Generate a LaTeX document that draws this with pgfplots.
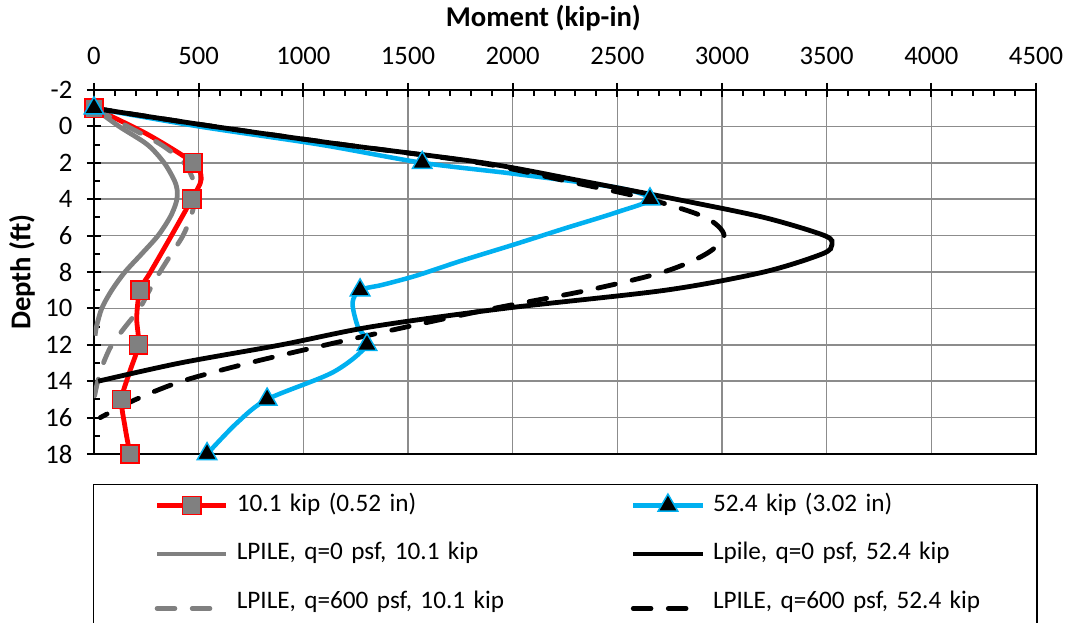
\documentclass[border=0pt]{standalone}
\usepackage{fontspec}
\setmainfont{Carlito}
\usepackage{pgfplots}
\pgfplotsset{compat=1.18}

\definecolor{cblue}{RGB}{0,176,240}
\definecolor{cred}{RGB}{255,0,0}
\definecolor{cgray}{RGB}{128,128,128}
\definecolor{cgrid}{RGB}{140,140,140}

\pgfplotsset{
  limg/.style={legend image code/.code={
      \path (0pt,0pt) (70.75pt,0pt);
      \draw[mark repeat=2,mark phase=2,##1] plot coordinates {(18.75pt,0pt) (44.75pt,0pt) (70.75pt,0pt)};
  }},
  dashstyle/.style={dash pattern=on 13.3pt off 13pt},
}

\begin{document}
\begin{tikzpicture}[font=\fontsize{20}{23}\selectfont]
\begin{axis}[
  name=ax,
  scale only axis,
  width=706.5pt, height=273pt,
  xmin=0, xmax=4500, ymin=-2, ymax=18,
  y dir=reverse,
  xtick={0,500,...,4500},
  ytick={-2,0,...,18},
  minor x tick num=4,
  minor y tick num=1,
  xticklabel pos=upper,
  xtick pos=upper,
  ytick pos=left,
  tick align=center,
  major tick length=10.5pt,
  minor tick length=4.5pt,
  major tick style={black, line width=1.5pt},
  minor x tick style={black, line width=1.5pt, yshift=-2.25pt},
  minor y tick style={black, line width=1.5pt, xshift=2.25pt},
  xticklabel style={yshift=10.5pt},
  yticklabel style={xshift=-7.5pt},
  grid=major,
  major grid style={cgrid, line width=1.1pt},
  axis line style={black, line width=2pt},
  /pgf/number format/1000 sep={},
  /pgf/number format/assume math mode=true,
  xlabel={\textbf{Moment (kip-in)}},
  ylabel={\textbf{Depth (ft)}},
  xlabel style={font=\fontsize{21.5}{24}\selectfont, at={(axis description cs:0.477,1)}, anchor=center, yshift=54pt},
  ylabel style={font=\fontsize{21.5}{24}\selectfont, at={(axis description cs:0,0.5)}, anchor=center, rotate=0, yshift=54pt},
  legend columns=2,
  legend cell align=left,
  legend style={
    at={(0,0)}, anchor=north west, xshift=-0.75pt, yshift=-22.5pt,
    draw=black, line width=1.1pt, fill=white,
    inner xsep=27pt, inner ysep=6pt,
    row sep=17.4pt,
    font=\fontsize{18.9}{22}\selectfont,
    nodes={inner sep=0pt, text height=14pt, text depth=5pt},
    /tikz/every odd column/.append style={column sep=6pt},
  },
]

% --- lines ---
\addplot[forget plot, cred, line width=3.6pt, smooth, tension=0.5] coordinates {
(0,-1) (250,0.4) (473,2) (512,2.9) (467,4) (370,6) (270,8) (220,9) (204,10.5) (212,12) (170,13.5) (132,15) (148,16.5) (172,18)};

\addplot[forget plot, cblue, line width=3.4pt, smooth, tension=0.5] coordinates {
(0,-1) (500,0) (1080,1) (1568,2) (2004,2.6) (2502,3.37) (2656,4) (2502,4.7) (2250,5.6) (2004,6.5) (1750,7.4) (1540,8.2) (1380,8.7) (1271,9) (1235,9.7) (1260,11) (1304,12) (1143,13.5) (827,15) (682,16.3) (540,18)};

\addplot[forget plot, cgray, line width=3.6pt, smooth, tension=0.5] coordinates {
(0,-1) (120,0) (255,1) (335,2) (385,3) (398,3.6) (392,4.2) (363,5) (306,6) (228,7) (148,8) (85,9) (37,10) (12,11) (5,11.5)};

\addplot[forget plot, cgray, line width=3.6pt, dashstyle, line cap=round, smooth, tension=0.5] coordinates {
(0,-1) (160,0) (320,1) (430,2) (475,3) (482,4) (462,5) (425,6) (370,7) (315,8) (265,9) (218,10) (150,11) (85,12) (45,13) (18,14) (3,14.8)};

\addplot[forget plot, black, line width=3.6pt, smooth, tension=0.5] coordinates {
(0,-1) (570,0) (1190,1) (1860,2) (2330,3) (2780,4) (3200,5) (3490,6) (3525,6.5) (3480,7) (3200,8) (2730,9) (1960,10) (1330,11) (895,12) (411,13) (20,14)};

\addplot[forget plot, black, line width=3.6pt, dashstyle, line cap=round, smooth, tension=0.5] coordinates {
(0,-1) (570,0) (1190,1) (1840,2) (2256,3) (2650,4) (2920,5) (3010,6) (2925,7) (2720,8) (2360,9) (1910,10) (1500,11) (1110,12) (740,13) (420,14) (200,15) (30,16)};

% --- markers ---
\addplot[forget plot, only marks, mark=square*, mark size=6.8pt, mark options={fill=cgray, draw=cred, line width=1.1pt}] coordinates {
(0,-1) (473,2) (467,4) (220,9) (212,12) (132,15) (172,18)};

\addplot[forget plot, only marks, mark=triangle*, mark size=8.5pt, mark options={fill=black, draw=cblue, line width=1.1pt}] coordinates {
(0,-1) (1568,2) (2656,4) (1271,9) (1304,12) (827,15) (540,18)};

% --- legend ---
\addlegendimage{limg, cred, line width=3.6pt, mark=square*, mark size=6.8pt, mark options={fill=cgray, draw=cred, line width=1.1pt}}
\addlegendentry[text width=276.75pt]{10.1 kip (0.52 in)}
\addlegendimage{limg, cblue, line width=3.4pt, mark=triangle*, mark size=8.5pt, mark options={fill=black, draw=cblue, line width=1.1pt}}
\addlegendentry[text width=216pt]{52.4 kip (3.02 in)}
\addlegendimage{limg, cgray, line width=3.6pt}
\addlegendentry[text width=276.75pt]{LPILE, q=0 psf, 10.1 kip}
\addlegendimage{limg, black, line width=3.6pt}
\addlegendentry[text width=216pt]{Lpile, q=0 psf, 52.4 kip}
\addlegendimage{limg, cgray, line width=3.6pt, dashstyle, line cap=round}
\addlegendentry[text width=276.75pt, text depth=14pt]{LPILE, q=600 psf, 10.1 kip}
\addlegendimage{limg, black, line width=3.6pt, dashstyle, line cap=round}
\addlegendentry[text width=216pt, text depth=14pt]{LPILE, q=600 psf, 52.4 kip}
\end{axis}
\pgfresetboundingbox
\path ([xshift=-70.5pt,yshift=-126.75pt]ax.south west) rectangle ([xshift=24.75pt,yshift=67.5pt]ax.north east);
\end{tikzpicture}
\end{document}
